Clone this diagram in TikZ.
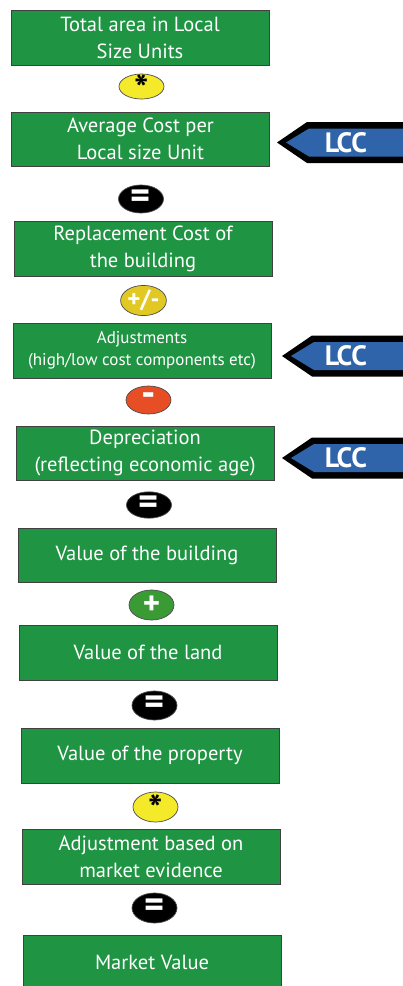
\documentclass[tikz,border=0pt]{standalone}
\usepackage{fontspec}
\setmainfont{PT Sans}
\usetikzlibrary{shapes.geometric}
\definecolor{boxgreen}{HTML}{1F9443}
\definecolor{opyellow}{HTML}{F4EA2A}
\definecolor{opgold}{HTML}{E2C823}
\definecolor{opred}{HTML}{E84E26}
\definecolor{opgreen}{HTML}{3A9B35}
\definecolor{lccblue}{HTML}{2F64AA}
\tikzset{
  valbox/.style={draw=black!75, line width=0.8pt, fill=boxgreen, text=white, align=center,
    inner sep=0pt, minimum width=258pt, minimum height=55pt, font=\fontsize{20.5}{27}\selectfont},
  smallbox/.style={valbox, font=\fontsize{17}{22}\selectfont},
  opnode/.style={ellipse, draw=black!70, line width=0.7pt, inner sep=0pt,
    minimum width=45pt, minimum height=28pt, font=\bfseries\fontsize{20}{20}\selectfont},
  eqsign/.style={font=\bfseries\fontsize{38}{38}\selectfont},
  lcctext/.style={text=white, font=\bfseries\fontsize{28}{28}\selectfont, inner sep=0pt},
}
\newcommand\lccarrow[3]{%
  \begin{scope}[shift={(#1,#2)}]
    \fill[black] (0,0) -- (30,-20.5) -- (130,-20.5) -- (130,20.5) -- (30,20.5) -- cycle;
    \fill[lccblue] (9,0) -- (32,-14) -- (130,-14) -- (130,14) -- (32,14) -- cycle;
  \end{scope}
  \node[lcctext] (#3) at (346,#2) {LCC};
}
\newcommand\astsym{\smash{\raisebox{-0.78em}{\fontsize{38}{38}\selectfont\textbf{*}}}}
\begin{document}
\begin{tikzpicture}[x=1pt,y=-1pt]
\useasboundingbox (0,0) rectangle (403,986);
\clip (0,0) rectangle (403,986);
\fill[white] (0,0) rectangle (403,986);

\node[valbox] (b1) at (140,37.5) {Total area in Local\\Size Units};
\node[opnode, fill=opyellow, minimum height=25pt] (e1) at (141.5,86.5) {\astsym};
\node[valbox, minimum height=54pt] (b2) at (140.5,139) {Average Cost per\\Local size Unit};
\lccarrow{277}{142.5}{lcc1}
\node[opnode, fill=black, text=white, eqsign] (e2) at (141,199) {=};
\node[valbox] (b3) at (143,248.5) {Replacement Cost of\\the building};
\node[opnode, fill=opgold, text=white, minimum height=29pt, font=\bfseries\fontsize{25}{25}\selectfont] (e3) at (143.5,300.5) {+/-};
\node[smallbox] (b4) at (142,350.5) {Adjustments\\(high/low cost components etc)};
\lccarrow{282}{356}{lcc2}
\node[opnode, fill=opred, text=white, font=\bfseries\fontsize{40}{40}\selectfont] (e4) at (148.5,400) {-};
\node[valbox, minimum height=54pt] (b5) at (145,453) {Depreciation\\(reflecting economic age)};
\lccarrow{282}{458}{lcc3}
\node[opnode, fill=black, text=white, eqsign, minimum height=26pt] (e5) at (149,505) {=};
\node[valbox, minimum height=54pt] (b6) at (147,555) {Value of the building};
\node[opnode, fill=opgreen, text=white, minimum height=30pt, font=\bfseries\fontsize{33}{33}\selectfont] (e6) at (151.5,605) {+};
\node[valbox] (b7) at (148,652.5) {Value of the land};
\node[opnode, fill=black, text=white, eqsign, minimum height=29pt] (e7) at (154.5,705.5) {=};
\node[valbox] (b8) at (150,755.5) {Value of the property};
\node[opnode, fill=opyellow, minimum height=30pt] (e8) at (155.5,807) {\astsym};
\node[valbox] (b9) at (151,856.5) {Adjustment based on\\market evidence};
\node[opnode, fill=black, text=white, eqsign, minimum height=30pt] (e9) at (154.5,908) {=};
\node[valbox] (b10) at (152,962.5) {Market Value};
\end{tikzpicture}
\end{document}
